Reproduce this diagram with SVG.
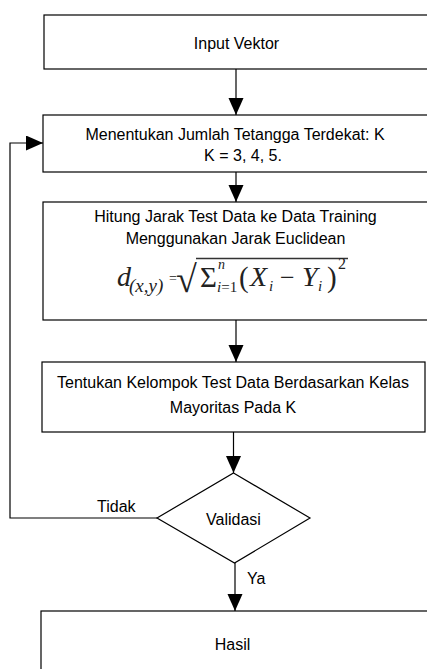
<svg xmlns="http://www.w3.org/2000/svg" width="427" height="669" viewBox="0 0 427 669">
<style>
.box{fill:#fff;stroke:#000;stroke-width:1.2}
.t{font-family:"Liberation Sans",Arial,sans-serif;font-size:16px;fill:#000;text-anchor:middle}
.tl{font-family:"Liberation Sans",Arial,sans-serif;font-size:16px;fill:#000}
.c{fill:none;stroke:#000;stroke-width:1.2}
.f{font-family:"Liberation Serif","Times New Roman",serif;fill:#222}
.fi{font-style:italic}
</style>
<defs>
<marker id="ah" markerUnits="userSpaceOnUse" markerWidth="18" markerHeight="16" refX="17" refY="7.5" orient="auto" viewBox="0 0 18 16">
<path d="M0,0 L17,7.5 L0,15 z" fill="#000"/>
</marker>
</defs>
<rect width="427" height="669" fill="#fff"/>
<g id="connectors">
<line class="c" x1="236" y1="69" x2="236" y2="115" marker-end="url(#ah)"/>
<line class="c" x1="236" y1="172" x2="236" y2="202" marker-end="url(#ah)"/>
<line class="c" x1="236" y1="320" x2="236" y2="362" marker-end="url(#ah)"/>
<line class="c" x1="233.5" y1="432" x2="233.5" y2="473" marker-end="url(#ah)"/>
<line class="c" x1="235" y1="563" x2="235" y2="611" marker-end="url(#ah)"/>
<polyline class="c" points="157,518 10,518 10,143 43,143" marker-end="url(#ah)"/>
<text class="tl" x="97" y="512">Tidak</text>
<text class="tl" x="247" y="584">Ya</text>
</g>
<g id="input">
<rect class="box" x="44" y="15" width="390" height="54"/>
<text class="t" x="236.5" y="49">Input Vektor</text>
</g>
<g id="k">
<rect class="box" x="43" y="115" width="390" height="57"/>
<text class="t" x="235" y="140">Menentukan Jumlah Tetangga Terdekat: K</text>
<text class="t" x="243" y="161">K = 3, 4, 5.</text>
</g>
<g id="jarak">
<rect class="box" x="43" y="202" width="390" height="118"/>
<text class="t" x="235.5" y="222">Hitung Jarak Test Data ke Data Training</text>
<text class="t" x="235.5" y="244">Menggunakan Jarak Euclidean</text>
<line x1="196" y1="258.5" x2="348" y2="258.5" stroke="#333" stroke-width="1.4"/>
<text class="f" font-size="28"><tspan class="fi" x="117" y="286">d</tspan><tspan class="fi" x="129" y="292" font-size="19">(x,y)</tspan><tspan x="169" y="283" font-size="14">=</tspan><tspan x="176" y="292" font-size="38">√</tspan><tspan x="200" y="287" font-size="29">Σ</tspan><tspan class="fi" x="218" y="269" font-size="14">n</tspan><tspan x="217" y="292" font-size="15"><tspan class="fi">i</tspan>=1</tspan><tspan x="239" y="287" font-size="29">(</tspan><tspan class="fi" x="250" y="286">X</tspan><tspan class="fi" x="269" y="291" font-size="15">i</tspan><tspan x="280" y="286" font-size="26">−</tspan><tspan class="fi" x="302" y="286">Y</tspan><tspan class="fi" x="318" y="291" font-size="15">i</tspan><tspan x="327" y="287" font-size="29">)</tspan><tspan x="338" y="269" font-size="16">2</tspan></text>
</g>
<g id="kelompok">
<rect class="box" x="42" y="362" width="383" height="70"/>
<text class="t" x="233" y="388">Tentukan Kelompok Test Data Berdasarkan Kelas</text>
<text class="t" x="233" y="413">Mayoritas Pada K</text>
</g>
<g id="validasi">
<polygon class="box" points="233.5,473 310,518 234.5,563 157,518"/>
<text class="t" x="233.5" y="525">Validasi</text>
</g>
<g id="hasil">
<rect class="box" x="41" y="611" width="390" height="70"/>
<text class="t" x="232.5" y="650">Hasil</text>
</g>
</svg>
